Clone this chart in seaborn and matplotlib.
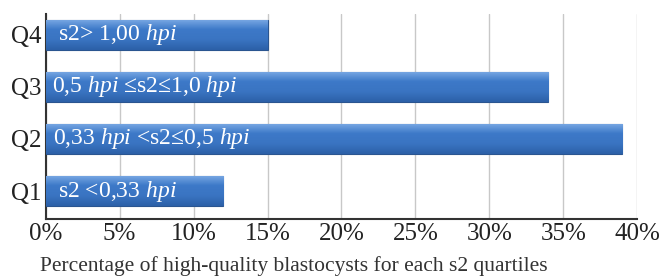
import numpy as np
import pandas as pd
import seaborn as sns
import matplotlib.pyplot as plt
from matplotlib.ticker import PercentFormatter

quartiles = ['Q4', 'Q3', 'Q2', 'Q1']
percent = [15, 34, 39, 12]
bar_labels = [r's2> 1,00 $\mathit{hpi}$',
              r'0,5 $\mathit{hpi}$ ≤s2≤1,0 $\mathit{hpi}$',
              r'0,33 $\mathit{hpi}$ <s2≤0,5 $\mathit{hpi}$',
              r's2 <0,33 $\mathit{hpi}$']
xticks = [0, 5, 10, 15, 20, 25, 30, 35, 40]

df = pd.DataFrame({'Quartile': quartiles, 'Percent': percent})

sns.set_style('white')
plt.rcParams['font.family'] = ['Liberation Serif', 'DejaVu Serif']
plt.rcParams['mathtext.fontset'] = 'custom'
plt.rcParams['mathtext.rm'] = 'Liberation Serif'
plt.rcParams['mathtext.it'] = 'Liberation Serif:italic'

fig = plt.figure(figsize=(6.63, 2.77), dpi=100)
ax = fig.add_axes([0.069, 0.209, 0.892, 0.74])

sns.barplot(data=df, x='Percent', y='Quartile', order=quartiles, color='#3a76c6',
            width=0.58, edgecolor='#2a5590', linewidth=0.8, ax=ax, zorder=3)

# gradient shading on the bars
grad = np.linspace(0, 1, 50).reshape(-1, 1)
cmap = sns.blend_palette(['#7aa9e4', '#3d79c8', '#3a74c2', '#2c60a8'], as_cmap=True)
for p in ax.patches:
    x0, y0 = p.get_x(), p.get_y()
    w, h = p.get_width(), p.get_height()
    im = ax.imshow(grad, extent=(x0, x0 + w, y0 + h, y0), aspect='auto',
                   cmap=cmap, zorder=3.5)
    im.set_clip_path(p)

starts = [0.85, 0.45, 0.5, 0.85]
for i, lab in enumerate(bar_labels):
    ax.text(starts[i], i, lab, color='white', fontsize=17, va='center', ha='left', zorder=5)

ax.set_xlim(0, 40)
ax.set_ylim(3.54, -0.40)
ax.set_xticks(xticks)
ax.xaxis.set_major_formatter(PercentFormatter(decimals=0))
ax.tick_params(axis='both', length=0, labelsize=18, colors='#222222', pad=3)
ax.grid(axis='x', color='#c8c8c8', linewidth=1, zorder=0)
ax.set_axisbelow(True)
sns.despine(ax=ax, top=True, right=True)
for s in ['left', 'bottom']:
    ax.spines[s].set_color('#333333')
    ax.spines[s].set_linewidth(1.5)
ax.set_ylabel('')
ax.set_xlabel('Percentage of high-quality blastocysts for each s2 quartiles',
              fontsize=15.5, color='#333333')
ax.xaxis.set_label_coords(0.42, -0.18)

fig.savefig('out.png', dpi=100)
